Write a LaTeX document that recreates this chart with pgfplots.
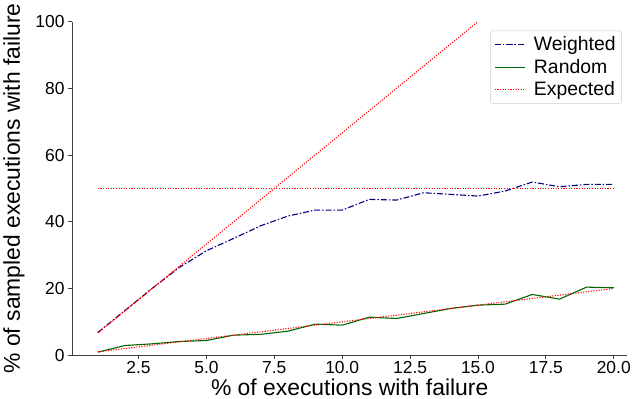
\documentclass[border=0pt]{standalone}
\usepackage{pgfplots}
\pgfplotsset{compat=1.18}
\usepackage{fontspec}
\setmainfont{Liberation Sans}
\definecolor{clrWeighted}{RGB}{0,0,128}
\definecolor{clrRandom}{RGB}{0,100,0}
\definecolor{clrExpected}{RGB}{255,0,0}

\begin{document}
\begin{tikzpicture}
\begin{axis}[
  scale only axis,
  width=556bp, height=334bp,
  xmin=0.05, xmax=20.5,
  ymin=0, ymax=100,
  axis x line=bottom, axis y line=left,
  axis line style={-, thick, black!75},
  tick align=outside,
  tick style={black!75, thick},
  major tick length=4bp,
  xtick={2.5,5,7.5,10,12.5,15,17.5,20},
  ytick={0,20,40,60,80,100},
  xticklabel style={/pgf/number format/fixed, /pgf/number format/fixed zerofill,
    /pgf/number format/precision=1, yshift=1bp},
  yticklabel style={xshift=0bp},
  /pgf/number format/assume math mode=true,
  tick label style={font=\fontsize{17.5}{20}\selectfont},
  label style={font=\fontsize{23}{26}\selectfont},
  xlabel={\% of executions with failure},
  ylabel={\% of sampled executions with failure},
  xlabel style={yshift=2bp},
  ylabel style={yshift=4bp},
  legend style={
    at={(0.99,0.973)}, anchor=north east,
    font=\fontsize{19.5}{22}\selectfont,
    draw=black!20, rounded corners=2pt,
    inner xsep=4pt, inner ysep=4pt,
    row sep=3pt,
    /tikz/every odd column/.append style={column sep=6pt},
  },
  legend cell align=left,
  legend image post style={xscale=1.8},
]
% Weighted
\addplot[clrWeighted, line width=1.1pt, dash pattern=on 6pt off 2pt on 1.5pt off 2pt] coordinates {
  (1,6.8) (2,13.4) (3,20.0) (4,26.3) (5,31.3) (6,35.0) (7,38.8) (8,41.7)
  (9,43.5) (10,43.5) (11,46.7) (12,46.5) (13,48.7) (14,48.2) (15,47.7)
  (16,49.2) (17,51.9) (18,50.5) (19,51.2) (20,51.2)
};
% Random
\addplot[clrRandom, line width=1.1pt] coordinates {
  (1,0.9) (2,2.9) (3,3.4) (4,4.1) (5,4.4) (6,6.0) (7,6.25) (8,7.2)
  (9,9.3) (10,9.0) (11,11.4) (12,11.0) (13,12.5) (14,14.0) (15,15.0)
  (16,15.3) (17,18.2) (18,16.8) (19,20.4) (20,20.2)
};
% Expected
\addplot[clrExpected, line width=1.1pt, dash pattern=on 1.1pt off 1.5pt] coordinates {
  (1,6.67) (15,100)
};
\addplot[clrExpected, line width=1.1pt, dash pattern=on 1.1pt off 1.5pt, forget plot] coordinates {
  (1,50) (20,50)
};
\addplot[clrExpected, line width=1.1pt, dash pattern=on 1.1pt off 1.5pt, forget plot] coordinates {
  (1,1) (20,20)
};
\legend{Weighted, Random, Expected}
\end{axis}
\end{tikzpicture}
\end{document}
